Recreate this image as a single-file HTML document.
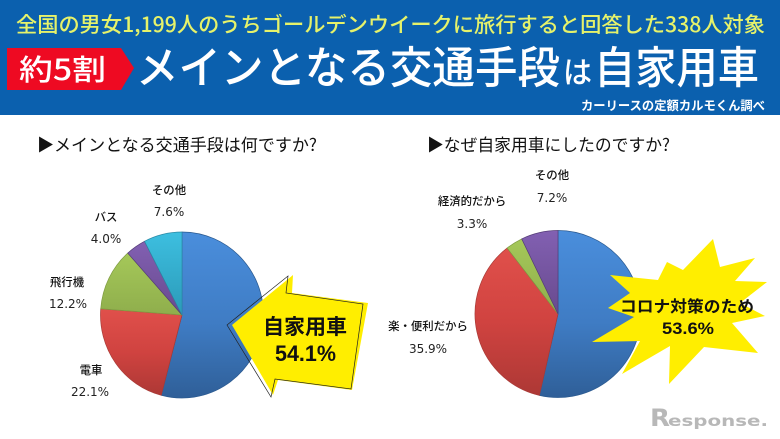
<!DOCTYPE html>
<html lang="ja">
<head>
<meta charset="utf-8">
<title>メインとなる交通手段は自家用車</title>
<style>
html,body{margin:0;padding:0;background:#fff;width:780px;height:439px;overflow:hidden}
svg{display:block}
text{font-family:"Liberation Sans","Noto Sans CJK JP",sans-serif}
.cjk{font-family:"Noto Sans CJK JP",sans-serif}
.pct{font-family:"DejaVu Sans",sans-serif;font-size:12px;fill:#222;text-anchor:middle}
.lab{font-family:"Noto Sans CJK JP",sans-serif;font-size:11.4px;font-weight:500;fill:#111;text-anchor:middle}
</style>
</head>
<body>
<svg id="chart" width="780" height="439" viewBox="0 0 780 439" xmlns="http://www.w3.org/2000/svg">
<defs>
<linearGradient id="g-blue" x1="0" y1="0" x2="0" y2="1"><stop offset="0" stop-color="#4a8edc"/><stop offset="0.55" stop-color="#3f7cc4"/><stop offset="1" stop-color="#2f5f98"/></linearGradient>
<linearGradient id="g-red" x1="0" y1="0" x2="0" y2="1"><stop offset="0" stop-color="#e0504b"/><stop offset="0.5" stop-color="#d04340"/><stop offset="1" stop-color="#ad3835"/></linearGradient>
<linearGradient id="g-green" x1="0" y1="0" x2="0" y2="1"><stop offset="0" stop-color="#a5c859"/><stop offset="1" stop-color="#8fae4c"/></linearGradient>
<linearGradient id="g-purple" x1="0" y1="0" x2="0" y2="1"><stop offset="0" stop-color="#8260b2"/><stop offset="1" stop-color="#684a8e"/></linearGradient>
<linearGradient id="g-cyan" x1="0" y1="0" x2="0" y2="1"><stop offset="0" stop-color="#3dbfe0"/><stop offset="1" stop-color="#2b9ab8"/></linearGradient>
</defs>

<rect x="0" y="0" width="780" height="115" fill="#0b60ae"/>
<text class="cjk" x="16" y="32" font-size="21" font-weight="500" fill="#e6f26a" textLength="749" lengthAdjust="spacingAndGlyphs">全国の男女1,199人のうちゴールデンウイークに旅行すると回答した338人対象</text>
<polygon points="7,48 121,48 134,68 121,90 7,90" fill="#ee0a22"/>
<text class="cjk" x="19" y="80" font-size="29" font-weight="500" fill="#fff" textLength="87" lengthAdjust="spacingAndGlyphs">約5割</text>
<text class="cjk" x="136" y="83" font-size="44" font-weight="500" fill="#fff" textLength="424" lengthAdjust="spacingAndGlyphs">メインとなる交通手段</text>
<text class="cjk" x="563" y="83" font-size="30" font-weight="500" fill="#fff" textLength="29" lengthAdjust="spacingAndGlyphs">は</text>
<text class="cjk" x="594" y="83" font-size="44" font-weight="500" fill="#fff" textLength="165" lengthAdjust="spacingAndGlyphs">自家用車</text>
<text class="cjk" x="581" y="110" font-size="12.5" font-weight="700" fill="#fff" textLength="184" lengthAdjust="spacingAndGlyphs">カーリースの定額カルモくん調べ</text>

<text class="cjk" x="37" y="151" font-size="17" fill="#111" textLength="280" lengthAdjust="spacingAndGlyphs">▶メインとなる交通手段は何ですか?</text>
<text class="cjk" x="427" y="151" font-size="17" fill="#111" textLength="243" lengthAdjust="spacingAndGlyphs">▶なぜ自家用車にしたのですか?</text>

<g id="pies"></g>

<text class="lab" x="169" y="194">その他</text>
<text class="pct" x="169" y="216">7.6%</text>
<text class="lab" x="106" y="221">バス</text>
<text class="pct" x="106" y="243">4.0%</text>
<text class="lab" x="67" y="286">飛行機</text>
<text class="pct" x="68" y="308">12.2%</text>
<text class="lab" x="91" y="374">電車</text>
<text class="pct" x="90" y="396">22.1%</text>

<text class="lab" x="552" y="179">その他</text>
<text class="pct" x="552" y="202">7.2%</text>
<text class="lab" x="472" y="205">経済的だから</text>
<text class="pct" x="472" y="228">3.3%</text>
<text class="lab" x="428" y="330">楽・便利だから</text>
<text class="pct" x="428" y="353">35.9%</text>

<polygon points="232,325 293,275 292,293 368,303 352,390 278,380 273,395" fill="#ffee00"/>
<polygon points="227,325 288,276 286,293 363,304 351,389 275,379 271,397" fill="none" stroke="#222" stroke-width="0.7"/>
<text class="cjk" x="263" y="334" font-size="21" font-weight="700" fill="#111" textLength="84" lengthAdjust="spacingAndGlyphs">自家用車</text>
<text x="275" y="361" font-size="22" font-weight="700" fill="#111" textLength="61" lengthAdjust="spacingAndGlyphs">54.1%</text>

<polygon points="610,275 658,280 667,262 683,270 713,239 720,267 755,258 735,281 767,282 740,303 765,316 732,323 758,353 704,347 669,384 670,346 622,374 640,341 592,342 634,317 608,308 630,293" fill="#ffee00"/>
<text class="cjk" x="620" y="312" font-size="16" font-weight="700" fill="#111" textLength="134" lengthAdjust="spacingAndGlyphs">コロナ対策のため</text>
<text x="662" y="334" font-size="16.5" font-weight="700" fill="#111" textLength="52" lengthAdjust="spacingAndGlyphs">53.6%</text>

<g fill="#b8b8b8">
<text x="650" y="426" font-size="24" font-weight="700" style="font-family:'DejaVu Sans',sans-serif" textLength="20" lengthAdjust="spacingAndGlyphs">R</text>
<text x="668" y="426" font-size="15" font-weight="700" style="font-family:'DejaVu Sans',sans-serif" textLength="100" lengthAdjust="spacingAndGlyphs">esponse.</text>
</g>

<script>
const leftCategories = ['自家用車', '電車', '飛行機', 'バス', 'その他'];
const leftValues = [54.1, 22.1, 12.2, 4.0, 7.6];
const leftColors = ['blue', 'red', 'green', 'purple', 'cyan'];
const rightCategories = ['コロナ対策のため', '楽・便利だから', '経済的だから', 'その他'];
const rightValues = [53.6, 35.9, 3.3, 7.2];
const rightColors = ['blue', 'red', 'green', 'purple'];

const svgNS = 'http://www.w3.org/2000/svg';
const edgeColors = {blue:'#2b5a90', red:'#a83a36', green:'#7f9c42', purple:'#553d78', cyan:'#2a8aa6'};

function angleScale(value, total) {
  return value / total * Math.PI * 2;
}
function drawPie(host, cx, cy, rx, ry, categories, values, colors, prefix) {
  const total = values.reduce(function (a, b) { return a + b; }, 0);
  let a0 = 0;
  values.forEach(function (v, i) {
    const a1 = a0 + angleScale(v, total);
    const x0 = cx + rx * Math.sin(a0), y0 = cy - ry * Math.cos(a0);
    const x1 = cx + rx * Math.sin(a1), y1 = cy - ry * Math.cos(a1);
    const large = (a1 - a0) > Math.PI ? 1 : 0;
    const p = document.createElementNS(svgNS, 'path');
    p.setAttribute('d', 'M' + cx + ' ' + cy + ' L' + x0 + ' ' + y0 + ' A' + rx + ' ' + ry + ' 0 ' + large + ' 1 ' + x1 + ' ' + y1 + ' Z');
    p.setAttribute('fill', 'url(#g-' + colors[i] + ')');
    p.setAttribute('stroke', edgeColors[colors[i]]);
    p.setAttribute('stroke-width', '0.7');
    
    
    p.setAttribute('aria-label', prefix + ' ' + categories[i] + ' ' + v + '%');
    host.appendChild(p);
    a0 = a1;
  });
}
const pies = document.getElementById('pies');
drawPie(pies, 182, 315, 81.5, 83, leftCategories, leftValues, leftColors, 'left');
drawPie(pies, 558, 314, 83, 83.5, rightCategories, rightValues, rightColors, 'right');
</script>
</svg>
</body>
</html>
